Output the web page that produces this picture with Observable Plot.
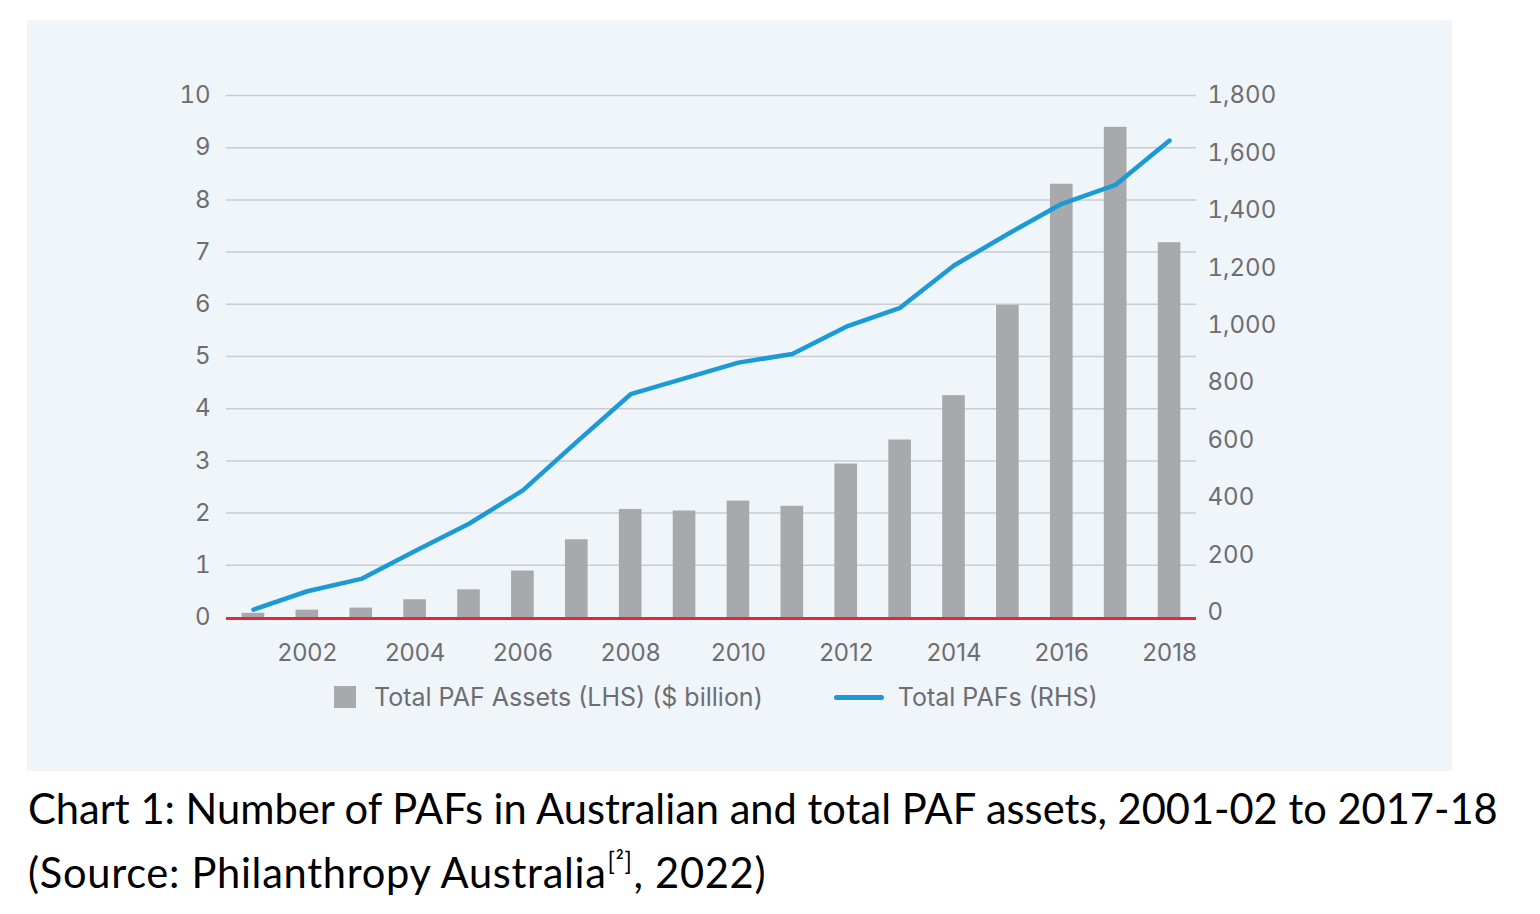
<!DOCTYPE html>
<html>
<head>
<meta charset="utf-8">
<script src="https://cdn.jsdelivr.net/npm/d3@7"></script>
<script src="https://cdn.jsdelivr.net/npm/@observablehq/plot@0.6"></script>
<style>
  html, body { margin: 0; padding: 0; background: #ffffff; }
  body { width: 1540px; height: 914px; position: relative; overflow: hidden; }
  #panel { position: absolute; left: 27px; top: 20px; width: 1425px; height: 751px; background: #f0f5fa; }
  #chart svg { display: block; }
  #legend { position: absolute; left: 307px; top: 664px; height: 26px; display: flex; align-items: center;
            font-family: Inter, sans-serif; font-size: 25px; color: #6d6e71; white-space: nowrap; }
  .sw { width: 22px; height: 22px; background: #a7a9ac; margin-right: 18px; }
  .ln { width: 50px; height: 5px; border-radius: 3px; background: #1b9ad6; margin-left: 71px; margin-right: 14px; }
  #caption { position: absolute; left: 28px; top: 776px; font-family: Lato, "Noto Sans", sans-serif;
             font-size: 38px; line-height: 64px; color: #000; white-space: nowrap; }
  #caption sup { font-size: 0.58em; vertical-align: 0; position: relative; top: -0.75em; padding: 0 1px; }
  .capline { display: inline-block; }
</style>
</head>
<body>
<div id="panel">
  <div id="chart"></div>
  <div id="legend">
    <div class="sw"></div><span id="lg1">Total PAF Assets (LHS) ($ billion)</span>
    <div class="ln"></div><span id="lg2">Total PAFs (RHS)</span>
  </div>
</div>
<div id="caption"><span class="capline" id="cap1">Chart 1: Number of PAFs in Australian and total PAF assets, 2001-02 to 2017-18</span><br><span class="capline" id="cap2">(Source: Philanthropy Australia<sup>[²]</sup>, 2022)</span></div>
<script>
// Data
const years = [2001, 2002, 2003, 2004, 2005, 2006, 2007, 2008, 2009, 2010, 2011, 2012, 2013, 2014, 2015, 2016, 2017, 2018];
const assets = [0.08, 0.14, 0.18, 0.34, 0.53, 0.89, 1.49, 2.07, 2.04, 2.23, 2.13, 2.94, 3.40, 4.25, 5.98, 8.30, 9.39, 7.18]; // $ billion (LHS)
const pafs = [10, 74, 117, 214, 309, 425, 594, 760, 815, 870, 900, 995, 1061, 1208, 1318, 1423, 1489, 1643]; // count (RHS)
const xTickYears = [2002, 2004, 2006, 2008, 2010, 2012, 2014, 2016, 2018];
const leftTicks = [0, 1, 2, 3, 4, 5, 6, 7, 8, 9, 10];
const rightTicks = [0, 200, 400, 600, 800, 1000, 1200, 1400, 1600, 1800];

const rows = years.map((y, i) => ({year: y, assets: assets[i], pafs: pafs[i]}));

// Right axis (0..1800) expressed in left-axis units (its 0 sits slightly above the left 0)
const rhsToLhs = d3.scaleLinear().domain([0, 1800]).range([5 / 52.2, 10]);

const textColor = "#6d6e71";
const chart = Plot.plot({
  width: 1425,
  height: 660,
  marginTop: 75,
  marginBottom: 63,
  marginLeft: 199,
  marginRight: 256,
  style: {background: "transparent", fontFamily: "Inter, sans-serif", fontSize: "24px", color: textColor},
  x: {type: "band", domain: years, paddingInner: 0.58, paddingOuter: 0.29, round: false, label: null},
  y: {domain: [0, 10], label: null},
  marks: [
    Plot.ruleY(leftTicks.filter(d => d > 0), {stroke: "#c9cdd3", strokeWidth: 1.5}),
    Plot.barY(rows, {x: "year", y: "assets", fill: "#a7a9ac"}),
    Plot.ruleY([0], {stroke: "#e3283c", strokeWidth: 3, dy: 1}),
    Plot.line(rows, {x: "year", y: d => rhsToLhs(d.pafs), stroke: "#1b9ad6", strokeWidth: 4.5, strokeLinecap: "round", strokeLinejoin: "round"}),
    Plot.axisX({ticks: xTickYears, tickSize: 0, tickPadding: 26, tickFormat: d => String(d), fill: textColor, fontSize: 24,
      style: {letterSpacing: "1.5px"}}),
    Plot.axisY({ticks: leftTicks, tickSize: 0, tickPadding: 16, anchor: "left", fill: textColor, fontSize: 24, label: null}),
    Plot.axisY(rightTicks.map(v => rhsToLhs(v)), {anchor: "right", tickSize: 0, tickPadding: 11, fill: textColor, fontSize: 24, label: null,
      tickFormat: (d, i) => d3.format(",")(rightTicks[i])})
  ]
});
document.getElementById("chart").appendChild(chart);

// Fit caption lines to the reference widths (~1470px and ~738px)
const cap1 = document.getElementById("cap1");
const cap2 = document.getElementById("cap2");
const capEl = document.getElementById("caption");
const w1 = cap1.getBoundingClientRect().width;
if (w1 > 0) capEl.style.fontSize = (38 * 1470 / w1).toFixed(2) + "px";
const w2 = cap2.getBoundingClientRect().width;
const n2 = cap2.textContent.length;
if (w2 > 0 && w2 < 738) cap2.style.letterSpacing = ((738 - w2) / n2).toFixed(2) + "px";
</script>
</body>
</html>
